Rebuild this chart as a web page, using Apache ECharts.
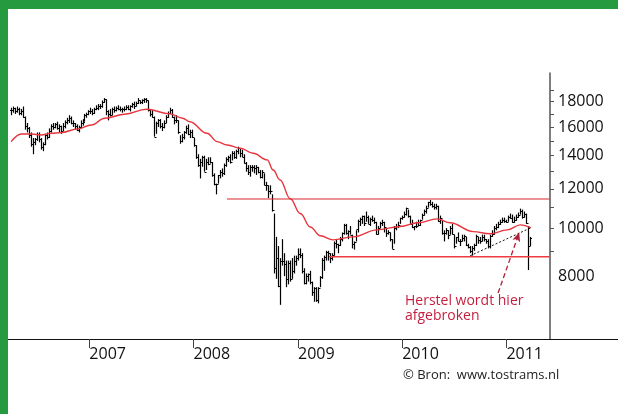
<!DOCTYPE html>
<html>
<head>
<meta charset="utf-8">
<script src="https://cdn.jsdelivr.net/npm/echarts@6/dist/echarts.min.js"></script>
<style>
html, body { margin: 0; padding: 0; background: #fff; }
#chart { width: 618px; height: 414px; }
</style>
</head>
<body>
<div id="chart"></div>
<script>
// weekly bars [high, low, close], first week ends 2006-03-31
var firstWeek = '2006-03-31';
var bars2006 = [
    [17500,16900,17300],[17600,17100,17450],[17500,17000,17200],[17600,17100,17400],[17500,16900,17100],
    [17400,16900,17250],[17600,16700,16800],[16800,15800,16100],[16300,15600,15900],[16000,15200,15450],
    [15600,14600,14800],[15200,14100,14900],[15200,14700,15100],[15600,15000,15500],[15600,14900,15100],
    [15200,14400,14600],[14900,14300,14800],[15500,14700,15400],[15600,15100,15300],[15900,15200,15700],
    [16200,15600,16100],[16300,15800,16000],[16300,15900,16200],[16400,15800,15900],[16200,15600,16100],
    [16100,15500,15700],[16300,15700,16100],[16500,15900,16400],[16700,16200,16500],[16900,16300,16700],
    [16800,16200,16300],[16500,16000,16300],[16300,15800,16100],[16200,15700,15800],[16100,15600,16000],
    [16500,15900,16300],[16600,16100,16400],[17000,16400,16900],[17100,16700,17000],[17300,16900,17200]
];
var bars2007 = [
    [17500,17000,17200],[17400,16900,17100],[17500,17000,17400],[17700,17300,17500],[17800,17300,17600],
    [17800,17400,17600],[18100,17500,18000],[18300,17900,18200],[18200,16900,17200],[17300,16500,17000],
    [17400,16800,16900],[17500,16900,17400],[17600,17100,17300],[17600,17200,17500],[17700,17300,17400],
    [17600,17200,17400],[17500,17100,17400],[17600,17200,17400],[17700,17300,17550],[17700,17300,17400],
    [17700,17200,17600],[17900,17500,17800],[18000,17400,17600],[18000,17600,17900],[18300,17800,18100],
    [18100,17800,18000],[18200,17800,18100],[18300,17900,18200],[18300,17900,18100],[18100,17200,17300],
    [17300,16800,17000],[17300,16700,16800],[16800,15300,15300],[16400,15500,16300],[16600,16000,16500],
    [16600,15900,16100],[16300,15700,16000],[16500,15900,16300],[16900,16300,16800],[17200,16700,17100],
    [17500,17000,17300],[17400,16700,16800],[16800,16200,16500],[16900,16300,16500],[16500,15500,15600],
    [15400,14800,15000],[15500,14900,15300],[15700,15100,15600],[16100,15500,15900],[16200,15400,15500],
    [15800,15200,15600],[15800,15200,15300]
];
var bars2008 = [
    [15200,14600,14700],[14700,13800,13900],[14100,13300,13400],[13800,12600,13600],[14000,13300,13900],
    [14000,13000,13000],[13800,13100,13600],[13900,13400,13500],[13900,13500,13600],[13600,12700,12800],
    [12900,12200,12250],[12300,11700,12250],[12800,12300,12800],[13100,12600,13000],[13200,12700,12900],
    [13500,12800,13400],[13900,13300,13800],[14000,13600,13900],[14100,13500,13600],[14300,13700,14200],
    [14300,13800,13900],[14400,13800,14300],[14600,14100,14500],[14500,13900,14200],[14400,13900,13950],
    [14100,13500,13550],[13600,13000,13250],[13400,12800,13000],[13400,12700,13300],[13400,13000,13300],
    [13400,12900,13200],[13400,12800,13300],[13300,12900,13000],[13100,12600,12700],[13100,12600,13000],
    [12900,12200,12200],[12400,11900,12200],[12200,11500,11900],[12200,11700,11900],[11700,10800,10900],
    [10700,8100,8300],[9600,7900,8700],[9200,7600,7650],[8700,7000,8580],[9500,8400,8600],
    [8900,8000,8450],[8600,7600,7900],[8600,7700,8500],[8600,7800,7900],[8700,7900,8200],
    [8800,8100,8600],[8800,8400,8700]
];
var bars2009 = [
    [9100,8600,8860],[9100,8700,8840],[8900,8100,8200],[8300,7700,7750],[8100,7700,8000],
    [8100,7800,8080],[8200,7700,7780],[7800,7300,7420],[7600,7100,7570],[7600,7100,7170],
    [7600,7050,7570],[8000,7600,7950],[8700,7900,8630],[8800,8200,8750],[9000,8600,8960],
    [9000,8600,8900],[8900,8500,8700],[8900,8600,8830],[9400,8800,9350],[9500,9100,9270],
    [9300,8900,9230],[9600,9200,9520],[9800,9400,9770],[10200,9700,10130],[10200,9700,9790],
    [9900,9500,9880],[10100,9700,9680],[9700,9100,9290],[9400,9050,9390],[9900,9400,9940],
    [10400,9800,10360],[10500,10100,10410],[10600,10200,10600],[10600,10100,10240],[10800,10300,10530],
    [10600,10200,10190],[10500,10100,10440],[10600,10300,10370],[10500,10200,10270],[10300,9700,9730],
    [10100,9700,10020],[10300,10000,10260],[10400,10100,10280],[10300,9800,10030],[10000,9600,9790],
    [9900,9700,9800],[9800,9400,9500],[9500,9080,9080],[10100,9300,10020],[10200,9900,10110],
    [10300,10000,10140],[10500,10200,10490]
];
var bars2010 = [
    [10600,10400,10550],[10800,10500,10680],[11000,10600,10980],[10900,10500,10590],[10600,10200,10200],
    [10400,10000,10060],[10100,9900,10090],[10300,10000,10120],[10400,10100,10130],[10400,10100,10370],
    [10700,10400,10650],[10900,10600,10820],[11100,10700,10990],[11300,11000,11290],[11400,11100,11200],
    [11300,11000,11100],[11200,10900,11050],[11200,10900,11060],[11100,10300,10360],[10600,10200,10460],
    [10400,9700,9780],[9900,9400,9770],[10000,9700,9900],[9900,9500,9700],[10100,9700,10000],
    [10200,9700,9740],[9700,9100,9200],[9600,9300,9580],[9800,9400,9410],[9500,9200,9430],
    [9700,9400,9540],[9700,9400,9640],[9600,9200,9250],[9300,9100,9180],[9200,8900,8990],
    [9200,8800,9110],[9300,9000,9240],[9700,9200,9630],[9600,9300,9470],[9600,9300,9400],
    [9700,9400,9590],[9700,9400,9500],[9500,9300,9430],[9500,9100,9200],[9700,9100,9630],
    [9900,9600,9720],[10100,9700,10020],[10200,9900,10040],[10300,10000,10200],[10400,10150,10300],
    [10500,10250,10400],[10500,10250,10350],[10400,10250,10300]
];
var bars2011 = [
    [10600,10300,10540],[10700,10450,10500],[10650,10250,10300],[10550,10250,10400],[10650,10350,10550],
    [10750,10500,10650],[10950,10650,10850],[10900,10450,10550],[10800,10500,10700],[10700,10200,10250],
    [10100,8230,9200],[9600,9200,9540]
];

// moving average (red line)
var maDates = ['2006-04-02','2006-05-08','2006-06-12','2006-07-16','2006-08-20','2006-09-24','2006-11-22',
    '2007-01-08','2007-02-24','2007-05-05','2007-07-20','2007-10-10','2007-11-24','2007-12-19',
    '2008-02-17','2008-03-24','2008-04-28','2008-06-13','2008-07-28','2008-09-15','2008-10-06','2008-10-30','2008-12-05',
    '2009-01-09','2009-02-13','2009-03-20','2009-05-04','2009-07-13','2009-10-05','2009-12-25',
    '2010-02-25','2010-05-04','2010-06-18','2010-09-07','2010-11-05','2011-01-04','2011-02-19','2011-03-28'];
var maValues = [14950,15490,15490,15420,15540,15590,15860,
    16150,16660,16980,17380,17010,16670,16400,
    15540,14950,14720,14500,14160,13730,13100,12510,11460,
    10700,10050,9650,9470,9600,9920,10075,
    10250,10440,10250,9840,9740,9920,10150,10010];

// horizontal levels and the drawn lines
var resistance = 11450, resistanceFrom = '2008-04-27';
var support = 8750, supportFrom = '2009-04-20';
var levelsTo = '2011-06-01';
var trendFrom = ['2010-08-27', 8795], trendTo = ['2011-03-30', 10030];
var arrowFrom = ['2010-12-03', 7395], arrowTo = ['2011-02-15', 9798];

// axes
var yearTicks = ['2007-01-01','2008-01-01','2009-01-01','2010-01-01','2011-01-01'];
var yearLabels = ['2007','2008','2009','2010','2011'];
var priceLabels = [8000, 10000, 12000, 14000, 16000, 18000];
var priceTicks = [9000, 10000, 11000, 12000, 13000, 14000, 15000, 16000, 17000, 18000, 19000];

var green = '#259a3f';
var red = '#e8343c';
var noteRed = '#c41f3e';

function toTime(s) {
    return new Date(s.replace(/-/g, '/')).getTime();
}

var weekBars = [].concat(bars2006, bars2007, bars2008, bars2009, bars2010, bars2011);
var start = new Date(toTime(firstWeek));
// open tick drawn at the previous week's close
var barData = weekBars.map(function (b, i) {
    var d = new Date(start.getFullYear(), start.getMonth(), start.getDate() + 7 * i);
    var prev = i > 0 ? weekBars[i - 1][2] : b[2];
    return [d.getTime(), b[0], b[1], b[2], prev];
});
var maData = maDates.map(function (d, i) {
    return [toTime(d), maValues[i]];
});
var yearTimes = yearTicks.map(toTime);

function renderBar(params, api) {
    var t = api.value(0);
    var hi = api.coord([t, api.value(1)]);
    var lo = api.coord([t, api.value(2)]);
    var cl = api.coord([t, api.value(3)]);
    var op = api.coord([t, api.value(4)]);
    var x = Math.round(hi[0]) + 0.5;
    var yc = Math.round(cl[1]) + 0.5;
    var yo = Math.round(op[1]) + 0.5;
    var st = { stroke: '#000', lineWidth: 1 };
    return {
        type: 'group',
        children: [
            { type: 'line', shape: { x1: x, y1: hi[1], x2: x, y2: lo[1] }, style: { stroke: '#000', lineWidth: 1.2 } },
            { type: 'line', shape: { x1: x - 1.5, y1: yo, x2: x, y2: yo }, style: st },
            { type: 'line', shape: { x1: x, y1: yc, x2: x + 1.5, y2: yc }, style: st }
        ]
    };
}

function levelSeries(from, value, width, color) {
    return {
        type: 'line',
        data: [[toTime(from), value], [toTime(levelsTo), value]],
        symbol: 'none',
        lineStyle: { color: color, width: width },
        silent: true,
        z: 4
    };
}

var chart = echarts.init(document.getElementById('chart'));
var textFont = '"Open Sans", sans-serif';

chart.setOption({
    animation: false,
    backgroundColor: '#fff',
    grid: { left: 8, right: 0, top: 73, bottom: 75, containLabel: false, outerBoundsMode: 'none' },
    xAxis: {
        type: 'value',
        min: toTime('2006-03-22'),
        max: toTime('2012-01-27'),
        axisLine: { show: true, lineStyle: { color: '#111', width: 1 } },
        axisTick: { show: true, length: 9, customValues: yearTimes, lineStyle: { color: '#444' } },
        axisLabel: {
            customValues: yearTimes,
            formatter: function (v) {
                var i = yearTimes.indexOf(v);
                return i >= 0 ? yearLabels[i] : String(new Date(v).getFullYear());
            },
            align: 'left', margin: 7, color: '#111', fontSize: 16, fontFamily: textFont
        },
        splitLine: { show: false }
    },
    yAxis: {
        type: 'log',
        logBase: 10,
        min: 5973,
        max: 20565,
        position: 'right',
        offset: -68,
        axisLine: { show: true, lineStyle: { color: '#555', width: 1.5 } },
        axisTick: { show: true, length: 4, customValues: priceTicks, lineStyle: { color: '#555' } },
        axisLabel: {
            customValues: priceLabels,
            formatter: function (v) { return String(Math.round(v)); },
            margin: 8, color: '#111', fontSize: 16, fontFamily: textFont
        },
        splitLine: { show: false },
        minorTick: { show: false }
    },
    series: [
        {
            type: 'custom',
            renderItem: renderBar,
            data: barData,
            encode: { x: 0, y: [1, 2, 3] },
            z: 2
        },
        levelSeries(resistanceFrom, resistance, 1, '#d8262e'),
        levelSeries(supportFrom, support, 1.5, '#ee3a40'),
        {
            type: 'line',
            data: maData,
            smooth: 0.4,
            smoothMonotone: 'x',
            symbol: 'none',
            lineStyle: { color: red, width: 1.4 },
            z: 3,
            markLine: {
                silent: true,
                symbol: ['none', 'none'],
                label: { show: false },
                emphasis: { disabled: true },
                data: [
                    [{ coord: [toTime(trendFrom[0]), trendFrom[1]], lineStyle: { color: '#111', width: 1, type: [2, 2] } },
                     { coord: [toTime(trendTo[0]), trendTo[1]] }],
                    [{ coord: [toTime(arrowFrom[0]), arrowFrom[1]], symbol: 'none', lineStyle: { color: '#b01f3a', width: 1.3, type: [5, 3] } },
                     { coord: [toTime(arrowTo[0]), arrowTo[1]], symbol: 'arrow', symbolSize: [6, 9] }]
                ]
            }
        }
    ],
    graphic: [
        { type: 'rect', shape: { x: 0, y: 0, width: 618, height: 9 }, style: { fill: green }, z: 10 },
        { type: 'rect', shape: { x: 0, y: 0, width: 8, height: 414 }, style: { fill: green }, z: 10 },
        {
            type: 'text', left: 405, top: 293, z: 10,
            style: { text: 'Herstel wordt hier\nafgebroken', fill: noteRed, font: '14px ' + textFont, lineHeight: 15.6 }
        },
        {
            type: 'text', left: 403, top: 369, z: 10,
            style: { text: '\u00a9 Bron:  www.tostrams.nl', fill: '#222', font: '13px ' + textFont }
        }
    ]
});
</script>
</body>
</html>
